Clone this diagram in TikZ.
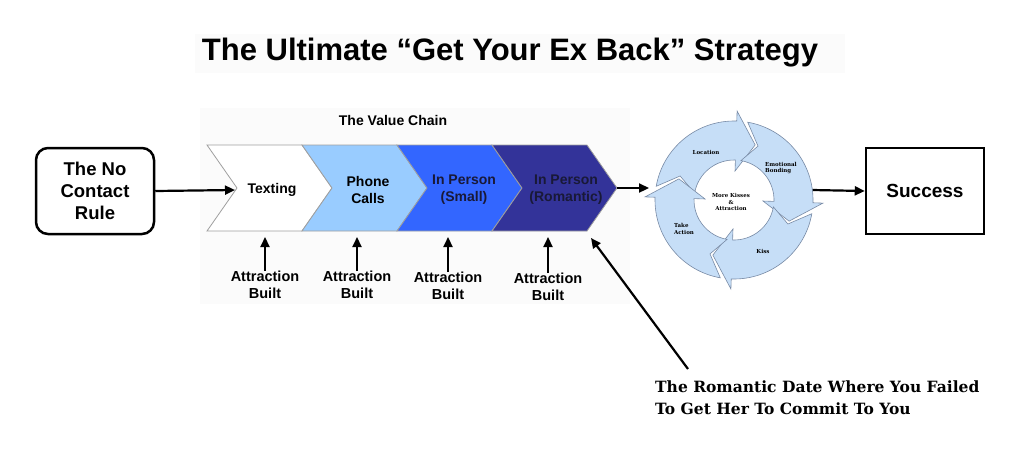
\documentclass[tikz,border=0pt]{standalone}
\usepackage{fontspec}
\setmainfont{Liberation Sans}
\newfontfamily\slabfont{DejaVu Serif}
\usepackage{tikz}
\usetikzlibrary{arrows.meta,positioning,calc}
\pgfdeclarelayer{background}
\pgfsetlayers{background,main}
\definecolor{chainlight}{RGB}{153,204,255}
\definecolor{chainmid}{RGB}{51,102,255}
\definecolor{chaindark}{RGB}{51,51,153}
\definecolor{chaintext}{RGB}{25,25,55}
\definecolor{cyclefill}{RGB}{198,222,247}
\definecolor{cycleline}{RGB}{120,138,165}

\tikzset{
  arr/.style={line width=2.2pt,-{Triangle[length=10pt,width=9pt]}},
  chev/.style={draw=gray!75, line width=0.8pt},
  chevtext/.style={align=center, inner sep=0pt, font=\fontsize{14}{17}\selectfont\bfseries},
  bigbox/.style={draw, line width=2.5pt, align=center, font=\fontsize{18.5}{22}\selectfont\bfseries},
  abtext/.style={align=center, inner sep=0pt, font=\fontsize{14.5}{16.5}\selectfont\bfseries},
  cyc/.style={fill=cyclefill, draw=cycleline, line width=0.6pt},
  cyctext/.style={inner sep=0pt, font=\slabfont\fontsize{5.5}{6.5}\selectfont\bfseries}
}

\begin{document}
\begin{tikzpicture}[x=1pt,y=-1pt]
\useasboundingbox (0,0) rectangle (1024,469);

\node[font=\fontsize{31}{36}\selectfont\bfseries] (title) at (510,53) {The Ultimate “Get Your Ex Back” Strategy};
\node[font=\fontsize{14}{17}\selectfont\bfseries] (vchain) at (393,120) {The Value Chain};

\node[bigbox, rounded corners=12pt, minimum width=118pt, minimum height=86pt] (nocontact) at (95,191) {The No\\Contact\\Rule};
\node[bigbox, minimum width=118pt, minimum height=86pt, font=\fontsize{19}{22}\selectfont\bfseries] (success) at (925,191) {Success};

\foreach \l/\c/\tc/\tx/\txt [count=\i] in {207/white/black/272/{Texting}, 302/chainlight/black/368/{Phone\\Calls}, 397/chainmid/chaintext/464/{In Person\\(Small)}, 492/chaindark/chaintext/566/{In Person\\(Romantic)}}
{
\filldraw[chev, fill=\c] (\l,145) -- ++(95,0) -- ++(30,43) -- ++(-30,43) -- ++(-95,0) -- ++(30,-43) -- cycle;
\node[chevtext, text=\tc] (ch\i) at (\tx,190) {\txt};
}

\coordinate (notch1) at (235,190);
\coordinate (tip4) at (617,188);
\coordinate (tip4low) at (591,238);
\coordinate (cycL) at (649,188);
\coordinate (cycR) at (812,190);

\draw[arr] (nocontact.east) -- (notch1);
\draw[arr] (tip4) -- (cycL);
\draw[arr] (cycR) -- (success.west);

\foreach \x/\y [count=\i] in {265/285, 357/285, 448/286, 548/287}
{
\node[abtext] (ab\i) at (\x,\y) {Attraction\\Built};
\coordinate (abtip\i) at (\x,237);
\draw[arr] (ab\i.north) -- (abtip\i);
}

\begin{scope}[shift={(734,200)}]
\foreach \t in {170,80,-10,-100}
{
\filldraw[cyc] (\t:79pt) arc[start angle=\t, end angle=\t-82, radius=79pt]
  -- (\t-82:89pt) -- (\t-101:59pt) -- (\t-82:29pt) -- (\t-82:40pt)
  arc[start angle=\t-82, end angle=\t, radius=40pt] -- (\t-14:59pt) -- cycle;
}
\end{scope}

\node[cyctext] (location) at (706,152) {Location};
\node[cyctext, align=left] (bonding) at (781,168) {Emotional\\Bonding};
\node[cyctext] (kiss) at (763,251) {Kiss};
\node[cyctext, align=left] (action) at (684,229) {Take\\Action};
\node[cyctext, align=center] (kisses) at (731,202) {More Kisses\\\&\\Attraction};

\node[anchor=north west, align=left, inner sep=0pt, font=\slabfont\fontsize{15.5}{22}\selectfont\bfseries] (romantic) at (655,381) {The Romantic Date Where You Failed\\To Get Her To Commit To You};
\coordinate (romtail) at (688,369);
\draw[arr] (romtail) -- (tip4low);

\begin{pgfonlayer}{background}
  \fill[black!1.5] (195,34) rectangle (845,73);
  \fill[black!1.5] (200,108) rectangle (630,304);
\end{pgfonlayer}
\end{tikzpicture}
\end{document}
